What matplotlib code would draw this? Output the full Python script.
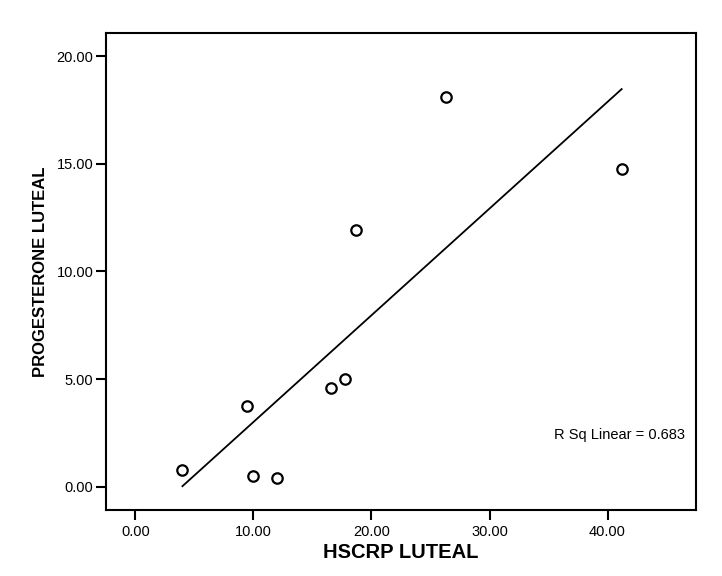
import numpy as np
import matplotlib
matplotlib.use('Agg')
import matplotlib.pyplot as plt

plt.rcParams['font.family'] = ['Liberation Sans', 'DejaVu Sans']

# values
hscrp_luteal = [3.98, 9.49, 9.92, 11.99, 16.60, 17.77, 18.67, 26.33, 41.20]
progesterone_luteal = [0.80, 3.75, 0.48, 0.40, 4.57, 5.00, 11.94, 18.10, 14.74]

x_ticks = [0, 10, 20, 30, 40]
y_ticks = [0, 5, 10, 15, 20]

x = np.array(hscrp_luteal)
y = np.array(progesterone_luteal)

# linear fit, drawn across the data range like SPSS does
slope, intercept = np.polyfit(x, y, 1)
r2 = np.corrcoef(x, y)[0, 1] ** 2
fit_x = np.array([x.min(), x.max()])
fit_y = slope * fit_x + intercept

fig = plt.figure(figsize=(7.22, 5.76), dpi=100)
ax = fig.add_axes([0.1468, 0.1146, 0.8172, 0.8281])

ax.plot(x, y, 'o', markersize=7.5, markerfacecolor='white',
        markeredgecolor='black', markeredgewidth=1.6, zorder=3)
ax.plot(fit_x, fit_y, color='black', linewidth=1.3, zorder=2)

ax.text(0.981, 0.157, f"R Sq Linear = {r2:.3f}", transform=ax.transAxes,
        ha='right', va='center', fontsize=10.5)

ax.set_xlim(-2.5, 47.5)
ax.set_ylim(-1.08, 21.08)
ax.set_xticks(x_ticks)
ax.set_yticks(y_ticks)
ax.set_xticklabels([f"{t:.2f}" for t in x_ticks])
ax.set_yticklabels([f"{t:.2f}" for t in y_ticks])

ax.tick_params(axis='x', direction='out', length=7, width=1.5, pad=4, labelsize=10.5)
ax.tick_params(axis='y', direction='out', length=7, width=1.5, pad=2, labelsize=10.5)
for s in ax.spines.values():
    s.set_linewidth(1.5)

ax.set_xlabel("HSCRP LUTEAL", fontsize=14.5, fontweight='bold', labelpad=3)
ax.set_ylabel("PROGESTERONE LUTEAL", fontsize=12, fontweight='bold', labelpad=6)

fig.savefig("out.png", dpi=100)
